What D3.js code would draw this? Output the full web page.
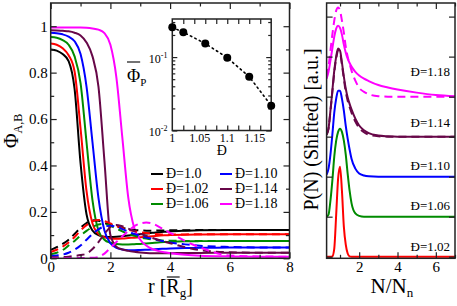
<!DOCTYPE html>
<html>
<head>
<meta charset="utf-8">
<script src="https://cdn.jsdelivr.net/npm/d3@7"></script>
<style>
  body { margin: 0; background: #fff; }
  svg { display: block; font-family: "Liberation Serif", "Times New Roman", serif; }
</style>
</head>
<body>
<svg id="chart" width="457" height="306"></svg>
<script>
// ---- left panel: volume fraction profiles vs r ----
const rGrid = [0, 0.2, 0.4, 0.6, 0.8, 1.0, 1.2, 1.4, 1.6, 1.8, 2.0, 2.2, 2.4, 2.6, 2.8, 3.0, 3.2, 3.4, 3.6, 3.8, 4.0, 4.5, 5, 6, 7, 8];

// solid lines (Phi_A)
const phiA100 = [0.900, 0.895, 0.880, 0.850, 0.730, 0.410, 0.190, 0.120, 0.100, 0.093, 0.092, 0.093, 0.095, 0.098, 0.101, 0.104, 0.107, 0.110, 0.112, 0.114, 0.116, 0.119, 0.121, 0.122, 0.122, 0.122];
const phiA102 = [0.925, 0.920, 0.905, 0.875, 0.805, 0.560, 0.290, 0.150, 0.105, 0.090, 0.085, 0.084, 0.085, 0.087, 0.089, 0.091, 0.093, 0.095, 0.097, 0.099, 0.100, 0.102, 0.103, 0.104, 0.104, 0.104];
const phiA106 = [0.953, 0.950, 0.940, 0.920, 0.870, 0.755, 0.500, 0.250, 0.120, 0.080, 0.067, 0.062, 0.060, 0.060, 0.061, 0.062, 0.064, 0.066, 0.068, 0.070, 0.071, 0.073, 0.074, 0.075, 0.075, 0.075];
const phiA110 = [0.972, 0.970, 0.965, 0.955, 0.935, 0.880, 0.740, 0.500, 0.260, 0.120, 0.065, 0.045, 0.038, 0.035, 0.035, 0.036, 0.037, 0.038, 0.040, 0.041, 0.042, 0.044, 0.045, 0.047, 0.047, 0.047];
const phiA114 = [0.983, 0.982, 0.980, 0.978, 0.972, 0.960, 0.930, 0.870, 0.740, 0.420, 0.100, 0.050, 0.038, 0.032, 0.028, 0.025, 0.023, 0.022, 0.022, 0.022, 0.022, 0.023, 0.023, 0.024, 0.024, 0.024];
const phiA118 = [0.994, 0.994, 0.994, 0.994, 0.994, 0.994, 0.993, 0.990, 0.985, 0.970, 0.920, 0.780, 0.520, 0.260, 0.130, 0.080, 0.055, 0.040, 0.032, 0.026, 0.022, 0.015, 0.011, 0.008, 0.007, 0.007];

// dashed lines (Phi_B)
const phiB100 = [0.036, 0.048, 0.062, 0.080, 0.105, 0.132, 0.152, 0.164, 0.162, 0.152, 0.144, 0.137, 0.131, 0.126, 0.122, 0.120, 0.119, 0.119, 0.120, 0.120, 0.121, 0.121, 0.122, 0.122, 0.122, 0.122];
const phiB102 = [0.027, 0.037, 0.050, 0.068, 0.092, 0.120, 0.143, 0.159, 0.165, 0.160, 0.150, 0.140, 0.130, 0.123, 0.117, 0.112, 0.109, 0.106, 0.104, 0.103, 0.103, 0.103, 0.104, 0.104, 0.104, 0.104];
const phiB106 = [0.017, 0.024, 0.035, 0.055, 0.075, 0.098, 0.118, 0.135, 0.146, 0.148, 0.140, 0.128, 0.116, 0.105, 0.097, 0.090, 0.085, 0.081, 0.079, 0.077, 0.076, 0.075, 0.075, 0.075, 0.075, 0.075];
const phiB110 = [0.010, 0.012, 0.016, 0.024, 0.037, 0.055, 0.080, 0.105, 0.125, 0.137, 0.140, 0.136, 0.126, 0.115, 0.105, 0.097, 0.090, 0.084, 0.078, 0.073, 0.068, 0.060, 0.054, 0.049, 0.047, 0.047];
const phiB114 = [0.004, 0.004, 0.005, 0.007, 0.010, 0.014, 0.020, 0.040, 0.070, 0.105, 0.135, 0.144, 0.138, 0.128, 0.117, 0.106, 0.096, 0.088, 0.080, 0.072, 0.065, 0.048, 0.035, 0.026, 0.024, 0.024];
const phiB118 = [0.001, 0.001, 0.001, 0.001, 0.001, 0.001, 0.002, 0.002, 0.006, 0.020, 0.045, 0.070, 0.095, 0.118, 0.138, 0.150, 0.154, 0.150, 0.138, 0.123, 0.110, 0.075, 0.047, 0.012, 0.008, 0.007];

const dispLabels = ["Đ=1.0", "Đ=1.02", "Đ=1.06", "Đ=1.10", "Đ=1.14", "Đ=1.18"];
const lineColors = ["#000000", "#ff0000", "#008b00", "#0000ff", "#670748", "#ff00ff"];

// ---- inset: mean Phi_P vs dispersity ----
const dispersity = [1.0, 1.02, 1.06, 1.10, 1.14, 1.18];
const phiP = [0.254, 0.218, 0.153, 0.098, 0.054, 0.0218];
const insetXTicks = [1, 1.05, 1.1, 1.15];
const insetXTickLabels = ["1", "1.05", "1.1", "1.15"];

// ---- right panel: chain length distributions (shifted) ----
const nGrid = [0.3, 0.4, 0.5, 0.6, 0.7, 0.8, 0.9, 1.0, 1.1, 1.2, 1.3, 1.4, 1.5, 1.6, 1.8, 2.0, 2.25, 2.5, 3.0, 3.5, 4.0, 5.0, 6.0, 7.0];
const pn102 = [0, 0, 0, 0.01, 0.2, 1.05, 1.95, 2.25, 1.65, 0.75, 0.3, 0.08, 0.01, 0, 0, 0, 0, 0, 0, 0, 0, 0, 0, 0];
const pn106 = [0, 0.05, 0.4, 0.9, 1.5, 1.9, 2.12, 2.2, 2.12, 1.9, 1.55, 1.07, 0.65, 0.34, 0.08, 0.02, 0, 0, 0, 0, 0, 0, 0, 0];
const pn110 = [0.05, 0.2, 0.55, 1.05, 1.6, 1.95, 2.15, 2.15, 1.95, 1.65, 1.27, 0.95, 0.68, 0.45, 0.2, 0.08, 0.03, 0.01, 0, 0, 0, 0, 0, 0];
const pn114 = [0.05, 0.2, 0.65, 1.15, 1.65, 2.0, 2.2, 2.15, 1.85, 1.5, 1.2, 0.98, 0.82, 0.68, 0.45, 0.28, 0.16, 0.09, 0.03, 0.01, 0, 0, 0, 0];
const pn114dash = [0.05, 0.2, 0.63, 1.12, 1.6, 1.95, 2.15, 2.1, 1.8, 1.45, 1.12, 0.9, 0.74, 0.6, 0.38, 0.22, 0.11, 0.05, 0.01, 0, 0, 0, 0, 0];
const pn118 = [0.45, 0.62, 0.9, 1.2, 1.5, 1.7, 1.77, 1.72, 1.55, 1.3, 1.1, 0.95, 0.84, 0.75, 0.62, 0.53, 0.45, 0.39, 0.29, 0.23, 0.18, 0.1, 0.04, 0.01];
const pn118dash = [0.5, 0.75, 1.15, 1.55, 1.9, 2.15, 2.23, 2.15, 1.9, 1.6, 1.25, 1.0, 0.82, 0.65, 0.4, 0.22, 0.12, 0.06, 0.01, 0, 0, 0, 0, 0];
const pnShift = [0, 1, 2, 3, 4];
const pnLabels = ["Đ=1.02", "Đ=1.06", "Đ=1.10", "Đ=1.14", "Đ=1.18"];

// --------------------------------------------------------------------
const svg = d3.select("#chart");
const INK = "#222";

function addAxis(g, maker, scale, vals, size, fmt, pad) {
  const ax = maker(scale).tickValues(vals).tickSize(-size).tickPadding(pad || 3)
    .tickFormat(fmt || (() => ""));
  g.call(ax);
  g.select(".domain").remove();
  g.attr("font-family", null).attr("font-size", null);
  g.selectAll(".tick line").attr("stroke", INK).attr("stroke-width", 1.2);
  g.selectAll(".tick text").attr("fill", "#000");
  return g;
}

function frame(box, xs, ys, o) {
  const g = svg.append("g").attr("font-size", o.font);
  const at = (x, y) => g.append("g").attr("transform", `translate(${x},${y})`);
  addAxis(at(0, box.y1), d3.axisBottom, xs, o.xMajor, o.major, o.xFmt, o.xPad);
  addAxis(at(0, box.y1), d3.axisBottom, xs, o.xMinor, o.minor);
  addAxis(at(0, box.y0), d3.axisTop, xs, o.xMajor, o.major);
  addAxis(at(0, box.y0), d3.axisTop, xs, o.xMinor, o.minor);
  addAxis(at(box.x0, 0), d3.axisLeft, ys, o.yMajor, o.major, o.yFmt, o.yPad);
  addAxis(at(box.x0, 0), d3.axisLeft, ys, o.yMinor, o.minor);
  addAxis(at(box.x1, 0), d3.axisRight, ys, o.yMajor, o.major);
  addAxis(at(box.x1, 0), d3.axisRight, ys, o.yMinor, o.minor);
  g.append("rect")
    .attr("x", box.x0).attr("y", box.y0)
    .attr("width", box.x1 - box.x0).attr("height", box.y1 - box.y0)
    .attr("fill", "none").attr("stroke", INK).attr("stroke-width", 1.5);
  return g;
}

function clip(id, box) {
  svg.append("clipPath").attr("id", id).append("rect")
    .attr("x", box.x0).attr("y", box.y0)
    .attr("width", box.x1 - box.x0).attr("height", box.y1 - box.y0);
}

// ================= left panel =================
const L = { x0: 50.7, x1: 289.5, y0: 3, y1: 258.3 };
const xL = d3.scaleLinear().domain([0, 8]).range([L.x0, L.x1]);
const yL = d3.scaleLinear().domain([0, 1.1]).range([L.y1, L.y0]);
clip("clipL", L);

const solidSets = [phiA100, phiA102, phiA106, phiA110, phiA114, phiA118];
const dashSets = [phiB100, phiB102, phiB106, phiB110, phiB114, phiB118];
const lineL = d3.line().x(d => xL(d[0])).y(d => yL(d[1])).curve(d3.curveMonotoneX);

const curvesL = svg.append("g").attr("clip-path", "url(#clipL)").attr("fill", "none");
solidSets.forEach((vals, i) => {
  curvesL.append("path")
    .attr("d", lineL(rGrid.map((r, k) => [r, vals[k]])))
    .attr("stroke", lineColors[i]).attr("stroke-width", 2);
});
dashSets.forEach((vals, i) => {
  curvesL.append("path")
    .attr("d", lineL(rGrid.map((r, k) => [r, vals[k]])))
    .attr("stroke", lineColors[i]).attr("stroke-width", 2)
    .attr("stroke-dasharray", "8,5");
});

frame(L, xL, yL, {
  font: 15, major: 6, minor: 3.5,
  xMajor: [0, 2, 4, 6, 8], xMinor: [1, 3, 5, 7],
  yMajor: [0, 0.2, 0.4, 0.6, 0.8, 1.0], yMinor: [0.1, 0.3, 0.5, 0.7, 0.9],
  xFmt: d => String(d), yFmt: d => String(+d.toFixed(1)),
  xPad: 3, yPad: 3
});

// legend
const legend = svg.append("g").attr("font-size", 14);
dispLabels.forEach((lab, i) => {
  const col = Math.floor(i / 3), row = i % 3;
  const lx = col === 0 ? 151 : 220;
  const ly = 174 + row * 15;
  legend.append("line")
    .attr("x1", lx).attr("x2", lx + 12).attr("y1", ly).attr("y2", ly)
    .attr("stroke", lineColors[i]).attr("stroke-width", 2);
  legend.append("text")
    .attr("x", lx + 15).attr("y", ly).attr("dy", "0.32em")
    .text(lab);
});

// y label Phi_{A,B}
const phiLab = svg.append("text")
  .attr("transform", "translate(17.5,148) rotate(-90)")
  .attr("font-size", 20);
phiLab.append("tspan").text("Φ");
phiLab.append("tspan").attr("font-size", 12).attr("dy", 4).text("A,B");

// x label r [R_g] with overbar on R
const rLab = svg.append("text").attr("x", 148).attr("y", 293).attr("font-size", 20);
rLab.append("tspan").text("r [");
rLab.append("tspan").text("R");
rLab.append("tspan").attr("font-size", 13).attr("dy", 4).text("g");
rLab.append("tspan").attr("dy", -4).text("]");
{
  const n = rLab.node();
  const s = n.getStartPositionOfChar(3).x, e = n.getEndPositionOfChar(3).x;
  svg.append("line").attr("x1", s + 0.5).attr("x2", e).attr("y1", 277).attr("y2", 277)
    .attr("stroke", "#000").attr("stroke-width", 1.1);
}

// ================= inset =================
const I = { x0: 172.3, x1: 271.2, y0: 19, y1: 130.5 };
const xI = d3.scaleLinear().domain([1, 1.18]).range([I.x0, I.x1]);
const yI = d3.scaleLog().domain([0.01, 0.33]).range([I.y1, I.y0]);

svg.append("rect").attr("x", I.x0).attr("y", I.y0)
  .attr("width", I.x1 - I.x0).attr("height", I.y1 - I.y0).attr("fill", "#fff");

const insetTicks = d3.range(1.02, 1.17, 0.02);
const gI = frame(I, xI, yI, {
  font: 12, major: 5, minor: 3,
  xMajor: insetTicks, xMinor: [],
  yMajor: [0.01, 0.1], yMinor: [0.02, 0.03, 0.04, 0.05, 0.06, 0.07, 0.08, 0.09, 0.2, 0.3]
});
// inset x labels
insetXTicks.forEach((v, i) => {
  gI.append("text").attr("x", xI(v)).attr("y", I.y1 + 11.5)
    .attr("text-anchor", "middle").text(insetXTickLabels[i]);
});
// inset y labels 10^-1, 10^-2
[[0.1, "-1"], [0.01, "-2"]].forEach(([v, ex]) => {
  const t = gI.append("text").attr("x", 167.5).attr("y", yI(v) + 5.5).attr("text-anchor", "end");
  t.append("tspan").text("10");
  t.append("tspan").attr("font-size", 8).attr("dy", -5).text(ex);
});
svg.append("text").attr("x", (I.x0 + I.x1) / 2).attr("y", 155)
  .attr("text-anchor", "middle").attr("font-size", 14).text("Đ");

svg.append("path")
  .attr("d", d3.line().x(d => xI(d[0])).y(d => yI(d[1]))(dispersity.map((d, i) => [d, phiP[i]])))
  .attr("fill", "none").attr("stroke", "#000").attr("stroke-width", 1.6)
  .attr("stroke-dasharray", "1.5,3.5").attr("stroke-linecap", "round");
svg.append("g").selectAll("circle")
  .data(dispersity)
  .join("circle")
  .attr("cx", d => xI(d)).attr("cy", (d, i) => yI(phiP[i])).attr("r", 4)
  .attr("fill", "#000");

// Phi_P label with overbar
const ppLab = svg.append("text").attr("x", 127).attr("y", 82).attr("font-size", 18);
ppLab.append("tspan").text("Φ");
ppLab.append("tspan").attr("font-size", 11).attr("dy", 4).text("P");
{
  const n = ppLab.node();
  const s = n.getStartPositionOfChar(0).x, e = n.getEndPositionOfChar(0).x;
  svg.append("line").attr("x1", s).attr("x2", e).attr("y1", 62).attr("y2", 62)
    .attr("stroke", "#000").attr("stroke-width", 1.1);
}

// ================= right panel =================
const R = { x0: 326.6, x1: 455, y0: 3, y1: 258.3 };
const xR = d3.scaleLinear().domain([0.3, 7]).range([R.x0, R.x1]);
const yR = d3.scaleLinear().domain([-0.04, 6.34]).range([R.y1, R.y0]);
clip("clipR", R);

const lineR = d3.line().x(d => xR(d[0])).y(d => yR(d[1])).curve(d3.curveMonotoneX);
const pnSolid = [pn102, pn106, pn110, pn114, pn118];
const pnDash = [null, null, null, pn114dash, pn118dash];
const curvesR = svg.append("g").attr("clip-path", "url(#clipR)").attr("fill", "none");
pnSolid.forEach((vals, i) => {
  curvesR.append("path")
    .attr("d", lineR(nGrid.map((x, k) => [x, vals[k] + pnShift[i]])))
    .attr("stroke", lineColors[i + 1]).attr("stroke-width", 2);
  if (pnDash[i]) {
    curvesR.append("path")
      .attr("d", lineR(nGrid.map((x, k) => [x, pnDash[i][k] + pnShift[i]])))
      .attr("stroke", lineColors[i + 1]).attr("stroke-width", 2)
      .attr("stroke-dasharray", "8,5");
  }
});

frame(R, xR, yR, {
  font: 15, major: 6, minor: 3.5,
  xMajor: [2, 4, 6], xMinor: [1, 3, 5, 7],
  yMajor: [0, 1, 2, 3, 4, 5, 6], yMinor: [],
  xFmt: d => String(d), yFmt: () => "", xPad: 3, yPad: 3
});

// curve tags
const tagY = [0.13, 0.17, 0.17, 0.23, 0.52];
pnLabels.forEach((lab, i) => {
  svg.append("text").attr("x", 450).attr("y", yR(pnShift[i] + tagY[i]))
    .attr("text-anchor", "end").attr("font-size", 13).text(lab);
});

svg.append("text")
  .attr("transform", "translate(318,129.5) rotate(-90)")
  .attr("text-anchor", "middle").attr("font-size", 20)
  .text("P(N) (Shifted) [a.u.]");

const nLab = svg.append("text").attr("x", 370.5).attr("y", 293).attr("font-size", 21);
nLab.append("tspan").text("N/N");
nLab.append("tspan").attr("font-size", 13).attr("dy", 4).text("n");
</script>
</body>
</html>
